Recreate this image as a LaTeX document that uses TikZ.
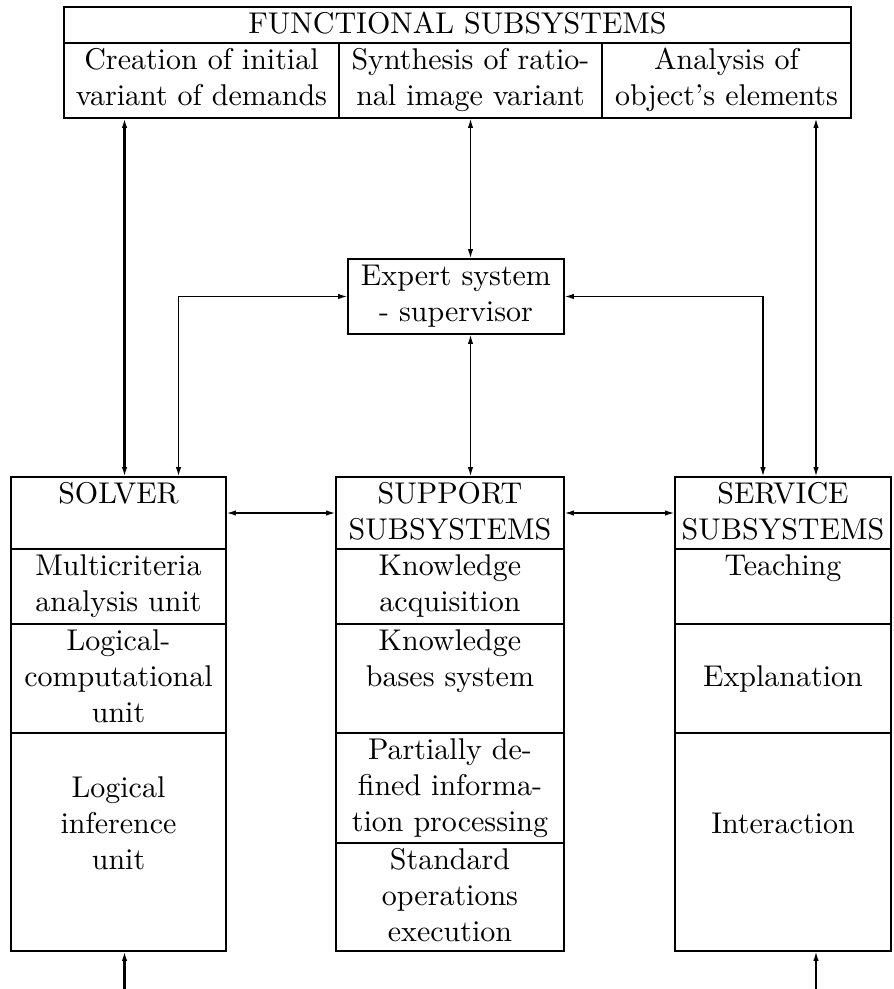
\documentclass[tikz,border=0pt]{standalone}
\usepackage{amsmath}
\usepackage{tikz}
\usetikzlibrary{
	arrows.meta,
	calc,
	positioning
}

\begin{document}
\begin{tikzpicture} [
		x = 1pt,
		y = 1pt,
		node distance = 0pt,
		>= {Latex[length = 3.3pt, width = 1.8pt]},
		cell/.style = {
			rectangle,
			draw,
			semithick,
			inner sep = 0pt,
			outer sep = 0pt,
			align = center,
			text height = 8.67pt,
		},
		solver-cell/.style = {
			cell,
			text width = 71.67pt,
		},
		support-cell/.style = {
			cell,
			thick,
			text width = 76pt,
		},
		service-cell/.style = {
			cell,
			text width = 72pt,
		},
		line/.style = {
			draw,
			semithick,
			<->,
		},
		line-in/.style = {
			draw,
			semithick,
			->,
		}
	]

	\useasboundingbox (0,0) rectangle (297.67,-329.67);

	\node[cell, anchor = north west, text width = 262.33pt, text depth = 3.33pt] (func) at (21.33,-2.33) {
		FUNCTIONAL SUBSYSTEMS
	};
	\node[cell, anchor = north west, text width = 91.67pt, text depth = 16.33pt] (creation) at (func.south west) {
		Creation of initial\\
		variant of demands
	};
	\node[cell, right = of creation, text width = 87.67pt, text depth = 16.33pt] (synthesis) {
		Synthesis of ratio-\\
		nal image variant
	};
	\node[cell, right = of synthesis, text width = 83pt, text depth = 16.33pt] (analysis) {
		Analysis of\\
		object's elements
	};

	\node[cell, anchor = north west, text width = 72pt, text depth = 16.33pt] (expert) at (116,-86.33) {
		Expert system\\
		- supervisor
	};

	\node[solver-cell, anchor = north west, text depth = 15.33pt] (solver) at (3.67,-159) {
		SOLVER
	};
	\node[solver-cell, below = of solver, text depth = 16.33pt] (multicriteria) {
		Multicriteria\\
		analysis unit
	};
	\node[solver-cell, below = of multicriteria, text depth = 27.67pt] (computational) {
		Logical-\\
		computational\\
		unit
	};
	\node[solver-cell, below = of computational, text height = 21.33pt, text depth = 51.33pt] (inference) {
		Logical\\
		inference\\
		unit
	};

	\node[support-cell, anchor = north west, text depth = 15.33pt] (support) at (112,-159) {
		SUPPORT\\
		SUBSYSTEMS
	};
	\node[support-cell, below = of support, text depth = 16.33pt] (acquisition) {
		Knowledge\\
		acquisition
	};
	\node[support-cell, below = of acquisition, text depth = 27.67pt] (bases) {
		Knowledge\\
		bases system
	};
	\node[support-cell, below = of bases, text depth = 28pt] (partial) {
		Partially de-\\
		fined informa-\\
		tion processing
	};
	\node[support-cell, below = of partial, text depth = 27.33pt] (standard) {
		Standard\\
		operations\\
		execution
	};

	\node[service-cell, anchor = north west, text depth = 15.33pt] (service) at (225,-159) {
		SERVICE\\
		SUBSYSTEMS
	};
	\node[service-cell, below = of service, text depth = 16.33pt] (teaching) {
		Teaching
	};
	\node[service-cell, below = of teaching, text height = 20.67pt, text depth = 15.67pt] (explanation) {
		Explanation
	};
	\node[service-cell, below = of explanation, text height = 33.33pt, text depth = 39.33pt] (interaction) {
		Interaction
	};

	\coordinate (solver-in) at ([xshift = 2pt, yshift = -12.67pt]inference.south);
	\coordinate (service-in) at ([xshift = 11pt, yshift = -12.67pt]interaction.south);

	\begin{scope} [
			every path/.style = line
		]
		\path[thick] ([xshift = 2pt]solver.north) -- ([xshift = 2pt]solver.north |- creation.south);
		\path (synthesis.south) -- (synthesis.south |- expert.north);
		\path ([xshift = 11pt]service.north) -- ([xshift = 11pt]service.north |- analysis.south);

		\path (expert.west) -| ([xshift = 20pt]solver.north);
		\path (expert.east) -| ([xshift = -6.67pt]service.north);
		\path (synthesis.south |- expert.south) -- (synthesis.south |- support.north);

		\path (solver.east) -- (support.west);
		\path (support.east) -- (service.west);
	\end{scope}

	\path[line-in, thick] (solver-in) -- (solver-in |- inference.south);
	\path[line-in] (service-in) -- (service-in |- interaction.south);
\end{tikzpicture}
\end{document}
